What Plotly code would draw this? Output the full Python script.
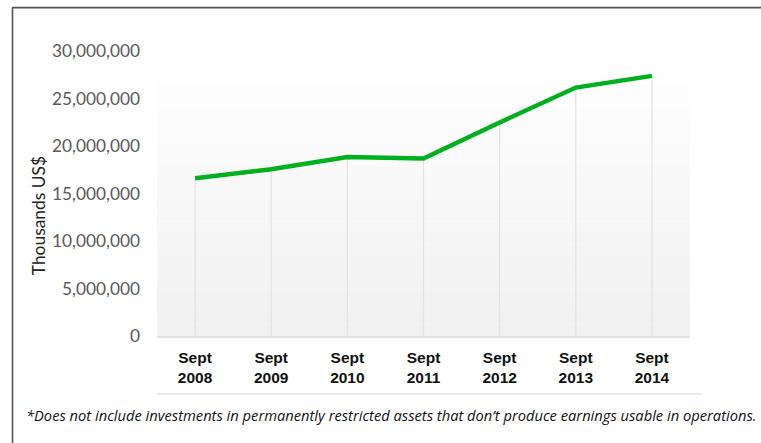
import plotly.graph_objects as go

# Datos (miles de US$)
years = ["Sept<br>2008", "Sept<br>2009", "Sept<br>2010", "Sept<br>2011",
         "Sept<br>2012", "Sept<br>2013", "Sept<br>2014"]
values = [16600000, 17550000, 18830000, 18680000, 22480000, 26150000, 27380000]
y_ticks = [0, 5000000, 10000000, 15000000, 20000000, 25000000, 30000000]
y_tick_text = ["0", "5,000,000", "10,000,000", "15,000,000",
               "20,000,000", "25,000,000", "30,000,000"]
y_title = "Thousands US$"
footnote = ("*Does not include investments in permanently restricted assets "
            "that don\u2019t produce earnings usable in operations.")

W, H = 761, 443
L, R, T, B = 157, 71, 50.5, 107
pw, ph = W - L - R, H - T - B


def px_x(x):
    return (x - L) / pw


def px_y(y):
    return (H - B - y) / ph


# líneas verticales desde cada punto hasta el eje
drop_x, drop_y = [], []
for cat, v in zip(years, values):
    drop_x += [cat, cat, None]
    drop_y += [0, v, None]

fig = go.Figure()
fig.add_trace(go.Scatter(
    x=drop_x, y=drop_y, mode="lines",
    line=dict(color="#e2e2e2", width=1.2),
    hoverinfo="skip", showlegend=False,
))
fig.add_trace(go.Scatter(
    x=years, y=values, mode="lines",
    line=dict(color="#00B01E", width=4.5),
    showlegend=False,
))

# fondo degradado del área de trazado
shapes = []
n = 24
top = px_y(61)
for i in range(n):
    g = int(0xf1 + (0xff - 0xf1) * i / (n - 1))
    shapes.append(dict(
        type="rect", xref="paper", yref="paper", layer="below",
        x0=0, x1=1, y0=top * i / n, y1=top * (i + 1) / n,
        fillcolor=f"rgb({g},{g},{g})", line=dict(width=0),
    ))

# marco (solo izquierda y arriba visibles)
shapes.append(dict(type="line", xref="paper", yref="paper",
                   x0=px_x(12.5), x1=px_x(12.5), y0=px_y(445), y1=px_y(6.5),
                   line=dict(color="#555555", width=1.6)))
shapes.append(dict(type="line", xref="paper", yref="paper",
                   x0=px_x(12.5), x1=px_x(765), y0=px_y(7), y1=px_y(7),
                   line=dict(color="#555555", width=1.6)))
# línea bajo las etiquetas del eje x
shapes.append(dict(type="line", xref="paper", yref="paper",
                   x0=0, x1=px_x(702), y0=px_y(394), y1=px_y(394),
                   line=dict(color="#dcdcdc", width=1.2)))

fig.update_layout(
    width=W, height=H,
    margin=dict(l=L, r=R, t=T, b=B),
    paper_bgcolor="white",
    plot_bgcolor="rgba(0,0,0,0)",
    shapes=shapes,
    annotations=[
        dict(text=footnote, xref="paper", yref="paper",
             x=px_x(24), y=px_y(415), xanchor="left", yanchor="middle",
             showarrow=False,
             font=dict(family="Open Sans", size=14.7, color="#111111",
                       style="italic")),
        dict(text=y_title, xref="paper", yref="paper",
             x=px_x(38), y=px_y(216), xanchor="center", yanchor="middle",
             textangle=-90, showarrow=False,
             font=dict(family="Lato", size=17.4, color="#222222")),
    ],
)
fig.update_xaxes(
    type="category", range=[-0.5, 6.5],
    showgrid=False, zeroline=False,
    showline=True, linecolor="#e4e4e4", linewidth=2,
    tickfont=dict(family="Liberation Sans", size=15.5, color="#111111", weight="bold"),
    ticklabelstandoff=6,
)
fig.update_yaxes(
    range=[0, 30000000],
    tickvals=y_ticks, ticktext=y_tick_text,
    showgrid=False, zeroline=False, showline=False,
    tickfont=dict(family="Lato", size=17.3, color="#5a5a5a"),
    ticklabelstandoff=16,
)

# sin margen del body para que la figura empiece en (0, 0)
fig.write_html("out.html", config={"displayModeBar": False},
               post_script="document.body.style.margin='0';")
